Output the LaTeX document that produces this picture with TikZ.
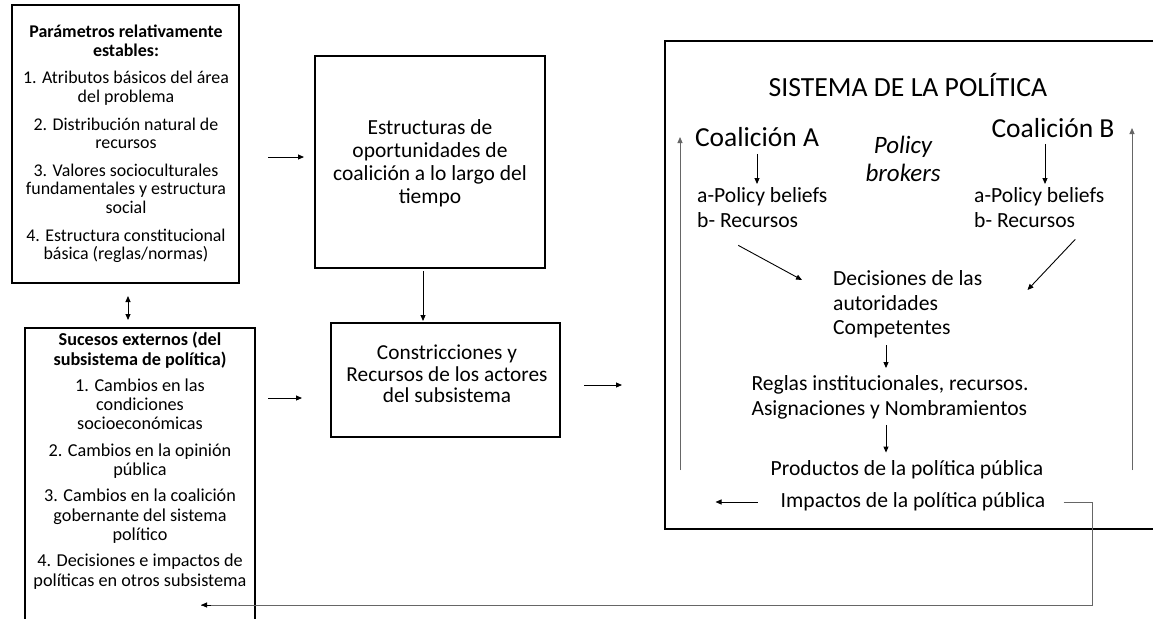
\documentclass[tikz,border=0pt]{standalone}
\usepackage{fontspec}
\setmainfont{Carlito}
\usetikzlibrary{arrows.meta,calc}
\begin{document}
\begin{tikzpicture}[x=1pt,y=-1pt,
  box/.style={draw=black,line width=2pt,inner sep=0pt},
  arr/.style={-{Triangle[length=6pt,width=5pt]},line width=0.9pt,black},
  arrtwo/.style={{Triangle[length=6pt,width=5pt]}-{Triangle[length=6pt,width=5pt]},line width=0.9pt,black},
  garr/.style={-{Triangle[length=6pt,width=5pt]},line width=1pt,draw=black!60},
  gline/.style={line width=1pt,draw=black!60},
  smalltxt/.style={font=\fontsize{17.9}{18.6}\selectfont,align=center,inner sep=0pt},
  midtxt/.style={font=\fontsize{21.5}{23}\selectfont,align=center,inner sep=0pt},
  systxt/.style={font=\fontsize{21.6}{24.8}\selectfont,inner sep=0pt},
]
\useasboundingbox (0,0) rectangle (1153,618);
\clip (0,0) rectangle (1153,618);
\fill[white] (0,0) rectangle (1153,618);

% left boxes
\node[box,minimum width=227pt,minimum height=278pt] (p) at (125.5,144) {};
\node[smalltxt] (pt) at (126,144) {\textbf{Parámetros relativamente}\\\textbf{estables:}\\[9pt]
1. Atributos básicos del área\\del problema\\[9pt]
2. Distribución natural de\\recursos\\[9pt]
3. Valores socioculturales\\fundamentales y estructura\\social\\[9pt]
4. Estructura constitucional\\básica (reglas/normas)};

\node[box,minimum width=230pt,minimum height=310pt] (s) at (140,483) {};
\node[smalltxt,font=\fontsize{18.2}{19.3}\selectfont,anchor=north] (st) at (140,332) {\textbf{Sucesos externos (del}\\\textbf{subsistema de política)}\\[7pt]
1. Cambios en las\\condiciones\\socioeconómicas\\[7pt]
2. Cambios en la opinión\\pública\\[7pt]
3. Cambios en la coalición\\gobernante del sistema\\político\\[7pt]
4. Decisiones e impactos de\\políticas en otros subsistema};

% middle boxes
\node[box,minimum width=230pt,minimum height=212pt] (e) at (430,162) {};
\node[midtxt] (et) at (430,163) {Estructuras de\\oportunidades de\\coalición a lo largo del\\tiempo};
\node[box,minimum width=229pt,minimum height=114pt] (c) at (445.5,380) {};
\node[midtxt,font=\fontsize{21.3}{21.5}\selectfont] (ct) at (447,374) {Constricciones y\\Recursos de los actores\\del subsistema};

% big box
\node[box,minimum width=500pt,minimum height=488pt] (big) at (915,285) {};
\node[inner sep=0pt,font=\fontsize{27.7}{30}\selectfont] (title) at (908,85) {SISTEMA DE LA POLÍTICA};
\node[inner sep=0pt,font=\fontsize{27.5}{30}\selectfont] (ca) at (757,137) {Coalición A};
\node[inner sep=0pt,font=\fontsize{27.5}{30}\selectfont] (cb) at (1053,128) {Coalición B};
\node[systxt,align=center,font=\fontsize{25}{28}\selectfont\itshape] (pb) at (903,159) {Policy\\brokers};
\node[systxt,align=left,anchor=north west] (ba) at (697,187) {a-Policy beliefs\\b- Recursos};
\node[systxt,align=left,anchor=north west] (bb) at (974,187) {a-Policy beliefs\\b- Recursos};
\node[systxt,align=left,anchor=north west] (dec) at (833,270) {Decisiones de las\\autoridades\\Competentes};
\node[systxt,align=left] (reg) at (890,397) {Reglas institucionales, recursos.\\Asignaciones y Nombramientos};
\node[systxt] (prod) at (907,470) {Productos de la política pública};
\node[systxt] (imp) at (913,502) {Impactos de la política pública};

% arrows left/middle
\draw[arr,shorten <=28pt,shorten >=10pt] ([yshift=5pt]p.east |- e.west) -- ([yshift=5pt]e.west);
\draw[arrtwo,shorten <=12pt,shorten >=7pt] ([xshift=2.5pt]p.south) -- ([xshift=2.5pt]p.south |- s.north);
\draw[arr,shorten <=12pt,shorten >=28pt] ([yshift=-18pt]s.east |- c.west) -- ([yshift=-18pt]c.west);
\draw[arr,shorten <=2pt,shorten >=1pt] ([xshift=-7pt]e.south) -- ([xshift=-7pt]e.south |- c.north);
\draw[arr,shorten <=23pt,shorten >=42pt] ([yshift=-5pt]c.east) -- ([yshift=-5pt]c.east -| big.west);

% arrows inside
\coordinate (mx) at (886,0);
\draw[arr] ([yshift=-7pt]ca.south) -- ([yshift=3pt]ca.south |- ba.north);
\draw[arr] ([shift={(-8,6)}]cb.south) -- ([shift={(-8,-3)}]cb.south |- ba.north);
\draw[arr] ([shift={(-24,18)}]ba.south) -- ([shift={(-31,10)}]dec.north west);
\draw[arr] ([shift={(36,12)}]bb.south) -- ([shift={(45,20)}]dec.north east);
\draw[arr] ([yshift=-7pt]dec.south -| mx) -- ([yshift=7pt]reg.north -| mx);
\draw[arr] ([yshift=-6pt]reg.south -| mx) -- ([yshift=8pt]prod.north -| mx);
\draw[arr] ([xshift=-23pt]imp.west) -- ([xshift=-65pt]imp.west);
\draw[garr] ([xshift=16pt]big.west |- prod) -- ([xshift=16pt]big.west |- ca);
\draw[garr] ([xshift=468pt]big.west |- prod) -- ([xshift=468pt]big.west |- cb);
\coordinate (fb) at (1092,605);
\draw[gline] ([xshift=18pt]imp.east) -| (fb) -- ([xshift=-55pt]fb -| s.east);
\draw[arr] ([xshift=-45pt]fb -| s.east) -- ([xshift=-55pt]fb -| s.east);
\end{tikzpicture}
\end{document}
